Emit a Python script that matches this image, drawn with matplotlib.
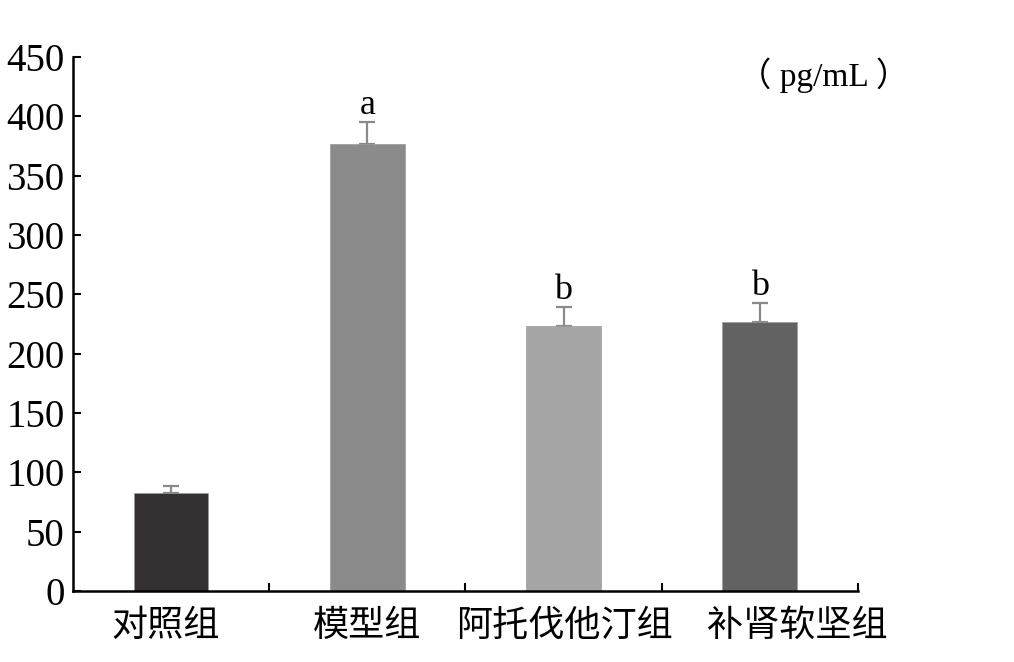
import matplotlib
matplotlib.use("Agg")
import matplotlib.pyplot as plt
import numpy as np

# data
groups = ["对照组", "模型组", "阿托伐他汀组", "补肾软坚组"]
means = [83, 377, 223, 227]
sd = [6, 18, 16, 16]
marks = ["", "a", "b", "b"]
bar_colors = ["#343031", "#8c8b8b", "#a6a5a5", "#636263"]
y_ticks = [0, 50, 100, 150, 200, 250, 300, 350, 400, 450]

serif = ["Liberation Serif", "Noto Sans CJK SC"]
cjk = ["Noto Sans CJK SC", "DejaVu Sans"]
label_shift = [-0.03, 0.0, 0.005, 0.19]  # the labels are not quite centred in the original

fig = plt.figure(figsize=(10.14, 6.62), dpi=100)
ax = fig.add_axes([0.072, 0.107, 0.774, 0.807])

x = np.arange(len(groups))
ax.bar(x, means, width=0.38, color=bar_colors, edgecolor="#9a9a9a", linewidth=0.5, zorder=2)
ax.errorbar(x, means, yerr=[np.zeros(len(sd)), sd], fmt="none", ecolor="#8a8a8a",
            elinewidth=1.6, capsize=6, capthick=1.6, zorder=1)

for xi, m, s, t in zip(x, means, sd, marks):
    if t:
        ax.annotate(t, (xi, m + s), xytext=(0, 0), textcoords="offset points",
                    ha="center", va="bottom", fontsize=26, family=serif)

ax.set_xlim(-0.5, 3.5)
ax.set_ylim(0, 450)
ax.set_yticks(y_ticks)
ax.set_yticklabels([str(v) for v in y_ticks], family=serif, fontsize=28)
ax.set_xticks(x + np.array(label_shift))
ax.set_xticklabels(groups, family=cjk, fontsize=26)
ax.set_xticks(x + 0.5, minor=True)
ax.tick_params(axis="x", which="major", length=0, pad=12)
ax.tick_params(axis="x", which="minor", direction="in", length=6, width=1.5)
ax.tick_params(axis="y", direction="in", length=6, width=1.5, pad=6)

for side in ["top", "right"]:
    ax.spines[side].set_visible(False)
for side in ["left", "bottom"]:
    ax.spines[side].set_linewidth(1.8)

fig.text(0.812, 0.887, "（ pg/mL ）", ha="center", va="center", fontsize=24, family=serif)

fig.savefig("out.png", dpi=100)
